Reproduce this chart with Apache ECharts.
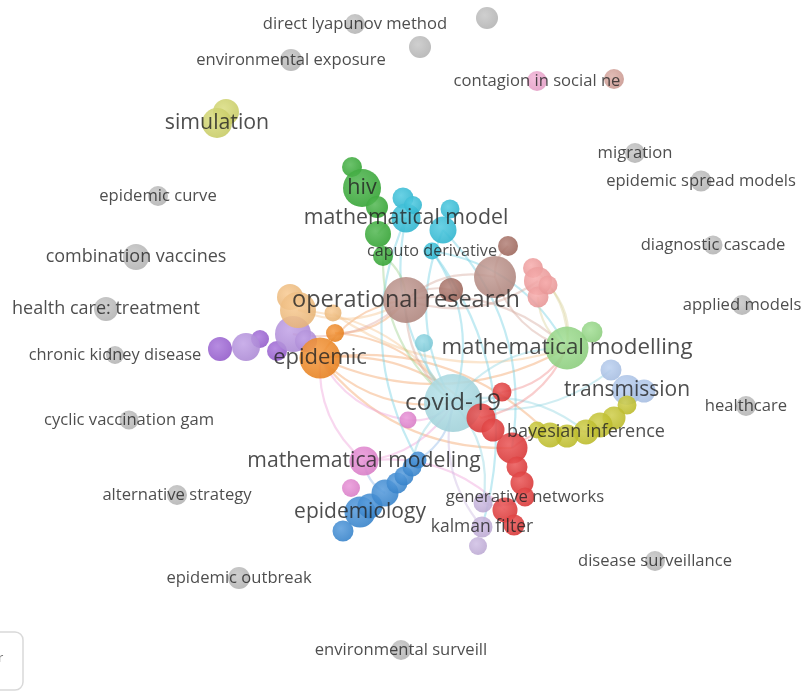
<!DOCTYPE html>
<html><head><meta charset="utf-8">
<script src="https://cdn.jsdelivr.net/npm/echarts@6/dist/echarts.min.js"></script>
<style>html,body{margin:0;padding:0;background:#fff}#c{width:803px;height:692px}</style>
</head><body><div id="c"></div>
<script>
// ---- DATA: map coordinates and node weights, one array per cluster: [label, x, y, weight]
const grey = [
  ['direct lyapunov method', 355, 24, 20],
  ['', 487, 18, 22],
  ['', 420, 47, 22],
  ['environmental exposure', 291, 60, 22],
  ['migration', 635, 153, 20],
  ['epidemic spread models', 701, 181, 21],
  ['epidemic curve', 158, 196, 20],
  ['combination vaccines', 136, 257, 26],
  ['diagnostic cascade', 713, 245, 19],
  ['health care: treatment', 106, 309, 24],
  ['applied models', 742, 305, 20],
  ['chronic kidney disease', 115, 355, 18],
  ['healthcare', 746, 406, 20],
  ['cyclic vaccination gam', 129, 420, 19],
  ['alternative strategy', 177, 495, 20],
  ['disease surveillance', 655, 561, 20],
  ['epidemic outbreak', 239, 578, 22],
  ['environmental surveill', 401, 650, 20]
];
const contagion = [['contagion in social ne', 537, 81, 20]];
const brownLight = [['', 614, 79, 20]];
const simulation = [['', 226, 112, 26], ['simulation', 217, 123, 30]];
const green = [['', 352, 167, 20], ['hiv', 362, 188, 38], ['', 377, 207, 22], ['', 378, 234, 26], ['', 383, 256, 20]];
const cyan = [['', 403, 198, 21], ['mathematical model', 406, 218, 29], ['', 450, 209, 19], ['', 443, 230, 27], ['caputo derivative', 432, 251, 17], ['', 413, 205, 18]];
const cyanLight = [['', 424, 343, 18]];
const covid = [['covid-19', 453, 403, 58]];
const brown = [['operational research', 406, 300, 46], ['', 495, 277, 42]];
const brownDark = [['', 508, 246, 20], ['', 451, 290, 24]];
const salmon = [['', 533, 268, 20], ['', 538, 281, 28], ['', 538, 297, 21], ['', 548, 285, 19]];
const lightGreen = [['mathematical modelling', 567, 348, 43], ['', 592, 332, 21]];
const lightBlue = [['', 611, 370, 21], ['transmission', 627, 390, 30], ['', 644, 391, 23]];
const olive = [['', 627, 405, 19], ['', 614, 418, 23], ['', 600, 425, 25], ['bayesian inference', 586, 432, 25], ['', 567, 436, 23], ['', 550, 435, 25], ['', 537, 430, 17]];
const red = [['', 502, 392, 19], ['', 481, 418, 29], ['', 493, 430, 23], ['', 512, 448, 31], ['', 517, 467, 21], ['', 522, 483, 23], ['generative networks', 525, 497, 19], ['', 505, 510, 25], ['', 514, 525, 21]];
const lavender = [['', 483, 503, 19], ['kalman filter', 482, 527, 21], ['', 478, 546, 18]];
const blue = [['', 343, 531, 21], ['epidemiology', 360, 512, 31], ['', 370, 506, 25], ['', 385, 493, 27], ['', 397, 483, 21], ['', 404, 476, 19], ['', 412, 467, 19], ['', 418, 460, 17]];
const pink = [['mathematical modeling', 364, 461, 29], ['', 351, 488, 18], ['', 408, 420, 17]];
const purple = [['', 220, 349, 24], ['', 260, 339, 18], ['', 277, 351, 20]];
const lightPurple = [['', 246, 347, 28], ['', 293, 334, 36], ['', 306, 341, 22]];
const orange = [['epidemic', 320, 358, 41], ['', 335, 333, 18]];
const lightOrange = [['', 290, 297, 26], ['', 298, 310, 36], ['', 333, 313, 17]];

// links between nodes (cluster key + index)
const links = [
  ['orange0','covid0'],['orange0','olive5'],['orange0','red3'],['orange0','brown0'],['orange0','lightGreen0'],['orange0','red1'],
  ['orange1','brown0'],['orange1','covid0'],
  ['lightOrange1','brown0'],['lightOrange1','covid0'],['lightOrange2','lightGreen0'],
  ['pink0','orange0'],['pink2','covid0'],['pink2','orange0'],['pink0','covid0'],['pink0','red7'],
  ['cyan3','covid0'],['cyan4','covid0'],['cyan1','covid0'],['cyan4','lavender1'],['cyan1','blue7'],['cyan3','red3'],['cyanLight0','covid0'],['cyan4','lightGreen0'],
  ['brown0','salmon1'],['brown0','lightGreen0'],['brown0','covid0'],['brown0','brownDark1'],['brown1','lightGreen0'],['brown0','brown1'],['brownDark0','brown1'],
  ['salmon0','lightGreen0'],['salmon2','lightGreen0'],['salmon3','lightGreen0'],
  ['covid0','red0'],['covid0','olive3'],['covid0','lightBlue0'],['covid0','lavender0'],['covid0','blue6'],['covid0','lightGreen0'],
  ['red1','lightGreen0'],['red3','olive3'],['red0','lightGreen0'],
  ['green4','brown0'],['green4','covid0'],['green3','cyan1'],
  ['lightPurple1','brown0'],['lightPurple1','orange0'],
  ['blue7','covid0'],['blue3','pink0'],
  ['lavender0','red6'],['lavender1','covid0']
];

// ---- STYLE
const clusters = {
  grey:['#bdbdbd', grey], contagion:['#f0a6d0', contagion], brownLight:['#d6a198', brownLight],
  simulation:['#d3d769', simulation], green:['#33ab33', green], cyan:['#30bfdb', cyan],
  cyanLight:['#82d3e2', cyanLight], covid:['#a9dde6', covid], brown:['#b98c84', brown],
  brownDark:['#a56a5f', brownDark], salmon:['#f59d9d', salmon], lightGreen:['#93d983', lightGreen],
  lightBlue:['#afc8ee', lightBlue], olive:['#c6c52a', olive], red:['#e53636', red],
  lavender:['#c7b3df', lavender], blue:['#3789d6', blue], pink:['#e583d2', pink],
  purple:['#9a5fd6', purple], lightPurple:['#b691e2', lightPurple], orange:['#f4871f', orange],
  lightOrange:['#f6c07e', lightOrange]
};
const edgeColors = { covid:'#8fd3e0', cyan:'#6fd0e2', cyanLight:'#8fd3e0', orange:'#f4a062', lightOrange:'#f5c48c',
  brown:'#d4a79c', brownDark:'#d4a79c', salmon:'#d8d29a', pink:'#eea0d8', red:'#f08a8a', green:'#9ccf8a',
  lightPurple:'#e0a7a0', blue:'#8fb8e6', lavender:'#cbb8e0' };
const fontSizes = {
  'covid-19':24.5,'operational research':23.5,'mathematical modelling':22.3,'mathematical model':21.3,'hiv':21.5,
  'epidemic':22,'simulation':21.3,'transmission':21,'epidemiology':21,'mathematical modeling':21.2,
  'bayesian inference':18,'generative networks':16.7,'kalman filter':17.5,'caputo derivative':16.2,
  'combination vaccines':18,'health care: treatment':18,'chronic kidney disease':16.4
};
function mix(hex, t) {
  const n = parseInt(hex.slice(1), 16);
  const r = n >> 16, g = (n >> 8) & 255, b = n & 255;
  const f = c => Math.round(c + (255 - c) * t);
  return 'rgb(' + f(r) + ',' + f(g) + ',' + f(b) + ')';
}
function shade(hex, t) {
  const n = parseInt(hex.slice(1), 16);
  const r = n >> 16, g = (n >> 8) & 255, b = n & 255;
  const f = c => Math.round(c * (1 - t));
  return 'rgb(' + f(r) + ',' + f(g) + ',' + f(b) + ')';
}

const nodes = [], labels = [];
Object.keys(clusters).forEach(key => {
  const [col, rows] = clusters[key];
  rows.forEach((row, i) => {
    const [lab, x, y, w] = row;
    nodes.push({
      name: key + i, value: [x, y], symbolSize: w,
      itemStyle: { color: { type: 'radial', x: 0.4, y: 0.38, r: 0.65,
        colorStops: [{ offset: 0, color: mix(col, 0.18) }, { offset: 1, color: shade(col, 0.06) }] },
        opacity: 0.88 }
    });
    if (lab) labels.push({ name: lab, value: [x, y], label: { fontSize: fontSizes[lab] || 16.6 } });
  });
});
const edgeData = links.map(([s, t], i) => {
  const key = s.replace(/\d+$/, '');
  return { source: s, target: t,
    lineStyle: { color: edgeColors[key] || '#cccccc', opacity: 0.42, width: 2.2, curveness: (i % 2 ? 0.25 : -0.25) } };
});

const chart = echarts.init(document.getElementById('c'), null, { renderer: 'canvas' });
chart.setOption({
  backgroundColor: '#fff',
  animation: false,
  grid: { left: 0, right: 0, top: 0, bottom: 0 },
  xAxis: { type: 'value', min: 0, max: 803, show: false },
  yAxis: { type: 'value', min: 0, max: 692, inverse: true, show: false },
  graphic: [
    { type: 'rect', shape: { x: -12, y: 632, width: 35, height: 58, r: 8 },
      style: { fill: '#fff', stroke: '#d9d9d9', lineWidth: 1.5 }, z: 20 },
    { type: 'text', x: -2, y: 652, style: { text: 'r', fontSize: 13, fill: '#777', fontFamily: 'Open Sans' }, z: 21 }
  ],
  series: [
    {
      type: 'graph', coordinateSystem: 'cartesian2d', layout: 'none',
      data: nodes, links: edgeData, roam: false, silent: true,
      symbol: 'circle', label: { show: false },
      emphasis: { disabled: true }, z: 2
    },
    {
      type: 'scatter', data: labels, symbolSize: 1, silent: true, z: 10,
      itemStyle: { color: 'rgba(0,0,0,0)' },
      label: { show: true, position: 'inside', formatter: '{b}', color: '#222',
        fontFamily: 'Open Sans', fontSize: 16.6 },
      emphasis: { disabled: true }
    }
  ]
});
</script></body></html>
